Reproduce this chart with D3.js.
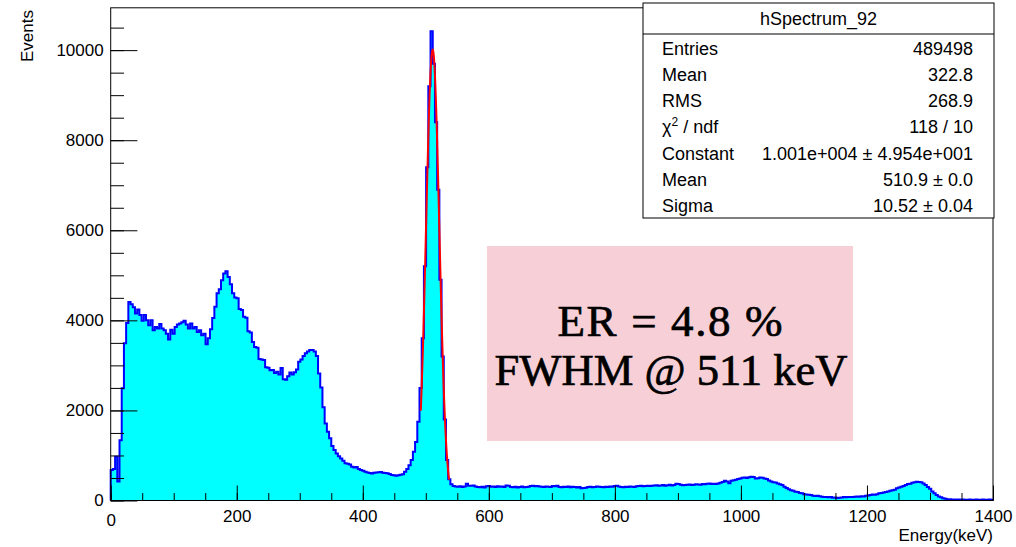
<!DOCTYPE html>
<html>
<head>
<meta charset="utf-8">
<script src="https://cdn.jsdelivr.net/npm/d3@7/dist/d3.min.js"></script>
<style>
  body { margin: 0; background: #ffffff; }
  svg { display: block; }
</style>
</head>
<body>
<svg id="chart"></svg>
<script>
// ---- data (bin width 3.5 keV, 0 - 1400 keV) ----
const binWidth = 3.5;

// 0 - 402.5 keV : Compton region with the backscatter peak near 180 keV
const countsLow = [
  680, 700, 970, 420, 1340, 2490, 3490, 3940, 4410, 4360,
  4290, 4150, 4240, 4120, 3990, 4120, 4000, 3890, 4000, 3780,
  3850, 3820, 3920, 3820, 3780, 3700, 3575, 3790, 3700, 3850,
  3910, 3930, 3960, 3990, 3910, 3820, 3930, 3820, 3850, 3740,
  3780, 3670, 3700, 3470, 3600, 3800, 4050, 4300, 4600, 4690,
  4890, 5040, 5090, 4960, 4800, 4600, 4510, 4490, 4250, 4230,
  4080, 4060, 3760, 3730, 3520, 3410, 3390, 3140, 3130, 3120,
  2960, 2950, 2890, 2900, 2830, 2860, 2800, 2940, 2690, 2680,
  2760, 2840, 2800, 2850, 2910, 3080, 3130, 3210, 3270, 3310,
  3340, 3340, 3310, 3210, 2820, 2510, 2070, 1710, 1525, 1380,
  1210, 1120, 1045, 985, 935, 880, 825, 815, 800, 750,
  735, 745, 700, 680, 660
];

// 402.5 - 546 keV : valley and 511 keV photopeak
const countsPeak = [
  640, 620, 610, 600, 615, 620, 625, 635, 615, 610,
  605, 590, 565, 560, 550, 560, 570, 585, 640, 700,
  780, 900, 1080, 1300, 1750, 2500, 3600, 5200, 7400, 9200,
  10420, 9700, 8400, 6900, 4900, 3200, 1800, 900, 470, 360,
  320
];

// 546 - 962.5 keV : flat continuum
const countsMid = [
  310, 305, 315, 300, 310, 370, 330, 325, 335, 310,
  300, 295, 305, 290, 315, 320, 305, 310, 300, 315,
  305, 310, 300, 335, 330, 300, 295, 305, 290, 300,
  310, 295, 300, 305, 320, 325, 315, 320, 310, 305,
  300, 310, 305, 300, 320, 315, 325, 300, 295, 305,
  300, 310, 295, 305, 300, 290, 300, 270, 275, 285,
  300, 305, 295, 300, 310, 305, 300, 295, 305, 300,
  310, 305, 320, 325, 310, 300, 295, 305, 300, 310,
  305, 300, 315, 320, 325, 315, 320, 330, 320, 325,
  335, 340, 330, 335, 345, 330, 340, 350, 335, 345,
  370, 365, 350, 340, 345, 350, 355, 345, 350, 360,
  355, 350, 365, 360, 370, 375, 365, 370, 365
];

// 962.5 - 1400 keV : Compton edge of 1275 keV line and the 1275 keV peak
const countsHigh = [
  380, 395, 410, 440, 420, 385, 440, 450, 460, 480,
  490, 505, 510, 500, 515, 525, 520, 490, 495, 510,
  505, 490, 480, 445, 420, 405, 400, 380, 360, 345,
  305, 280, 250, 225, 215, 195, 190, 165, 160, 140,
  135, 130, 120, 105, 100, 105, 95, 85, 75, 80,
  70, 75, 60, 65, 55, 60, 65, 75, 70, 80,
  75, 80, 85, 90, 85, 95, 90, 105, 110, 120,
  135, 130, 140, 160, 165, 175, 190, 200, 215, 225,
  240, 270, 290, 305, 320, 345, 365, 370, 395, 405,
  415, 410, 405, 380, 345, 300, 260, 200, 160, 120,
  90, 70, 50, 40, 30, 25, 20, 20, 15, 20,
  15, 20, 15, 15, 20, 15, 15, 20, 15, 15,
  20, 15, 15, 20, 15
];

const counts = countsLow.concat(countsPeak, countsMid, countsHigh);

const xTicks = [0, 200, 400, 600, 800, 1000, 1200, 1400];
const yTicks = [0, 2000, 4000, 6000, 8000, 10000];
const yMax = 10940;

// gaussian fit result
const fitConstant = 10010;
const fitMean = 510.9;
const fitSigma = 10.52;
const fitRange = [492, 537];

const statsTitle = "hSpectrum_92";
const statsLabels = ["Entries", "Mean", "RMS", "chi2", "Constant", "Mean", "Sigma"];
const statsValues = ["489498", "322.8", "268.9", "118 / 10",
  "1.001e+004 \u00b1 4.954e+001", "510.9 \u00b1 0.0", "10.52 \u00b1 0.04"];

const noteLines = ["ER = 4.8 %", "FWHM @ 511 keV"];

// ---- layout ----
const W = 1016, H = 547;
const frame = { left: 110.7, right: 993, top: 7.8, bottom: 500.5 };
const sans = "'Liberation Sans', Arial, Helvetica, sans-serif";

const svg = d3.select("#chart").attr("width", W).attr("height", H)
  .style("font-family", sans);

const x = d3.scaleLinear().domain([0, 1400]).range([frame.left, frame.right]);
const y = d3.scaleLinear().domain([0, yMax]).range([frame.bottom, frame.top]);

// histogram as step points
const steps = [];
counts.forEach((c, i) => {
  steps.push([i * binWidth, c]);
  steps.push([(i + 1) * binWidth, c]);
});

svg.append("path")
  .datum(steps)
  .attr("fill", "#00ffff")
  .attr("d", d3.area().x(d => x(d[0])).y0(y(0)).y1(d => y(d[1])));

const outline = [[0, 0]].concat(steps, [[counts.length * binWidth, 0]]);
svg.append("path")
  .datum(outline)
  .attr("fill", "none")
  .attr("stroke", "#0000ff")
  .attr("stroke-width", 2)
  .attr("stroke-linejoin", "miter")
  .attr("d", d3.line().x(d => x(d[0])).y(d => y(d[1])));

// fit curve
const fitPts = d3.range(fitRange[0], fitRange[1] + 0.01, 0.25).map(e =>
  [e, fitConstant * Math.exp(-0.5 * Math.pow((e - fitMean) / fitSigma, 2))]);
svg.append("path")
  .datum(fitPts)
  .attr("fill", "none")
  .attr("stroke", "#ff0000")
  .attr("stroke-width", 2)
  .attr("d", d3.line().x(d => x(d[0])).y(d => y(d[1])));

// axes
const xMinor = svg.append("g").attr("transform", `translate(0,${frame.bottom})`)
  .call(d3.axisBottom(x).tickValues(d3.range(0, 1401, 50)).tickSize(-7.5).tickFormat(""));
const xMajor = svg.append("g").attr("transform", `translate(0,${frame.bottom})`)
  .call(d3.axisBottom(x).tickValues(xTicks).tickSize(-15).tickPadding(9).tickFormat(d3.format("d")));

const yMinor = svg.append("g").attr("transform", `translate(${frame.left},0)`)
  .call(d3.axisLeft(y).tickValues(d3.range(0, yMax, 500)).tickSize(-13.3).tickFormat(""));
const yMajor = svg.append("g").attr("transform", `translate(${frame.left},0)`)
  .call(d3.axisLeft(y).tickValues(yTicks).tickSize(-26.7).tickPadding(7).tickFormat(d3.format("d")));

[xMinor, xMajor, yMinor, yMajor].forEach(g => {
  g.select(".domain").remove();
  g.selectAll("line").attr("stroke", "#000").attr("stroke-width", 1);
  g.selectAll("text").attr("fill", "#000").style("font-size", "17px").style("font-family", sans);
});
// the "0" on x sits a bit lower in ROOT
xMajor.selectAll("text").filter(d => d === 0).attr("y", 13);

// frame
svg.append("rect")
  .attr("x", frame.left).attr("y", frame.top)
  .attr("width", frame.right - frame.left).attr("height", frame.bottom - frame.top)
  .attr("fill", "none").attr("stroke", "#000").attr("stroke-width", 1);

// axis titles
svg.append("text")
  .attr("x", frame.right).attr("y", 541)
  .attr("text-anchor", "end")
  .style("font-size", "17px")
  .text("Energy(keV)");

svg.append("text")
  .attr("transform", "translate(33,10) rotate(-90)")
  .attr("text-anchor", "end")
  .style("font-size", "17px")
  .text("Events");

// stats box
const box = { x: 643, y: 3, w: 351, h: 215, head: 31 };
const stats = svg.append("g");
stats.append("rect")
  .attr("x", box.x).attr("y", box.y).attr("width", box.w).attr("height", box.h)
  .attr("fill", "#fff").attr("stroke", "#000").attr("stroke-width", 1);
stats.append("line")
  .attr("x1", box.x).attr("x2", box.x + box.w)
  .attr("y1", box.y + box.head).attr("y2", box.y + box.head)
  .attr("stroke", "#000");
stats.append("text")
  .attr("x", box.x + box.w / 2).attr("y", 25)
  .attr("text-anchor", "middle")
  .style("font-size", "18px")
  .text(statsTitle);

const rowH = 26.3;
statsLabels.forEach((lab, i) => {
  const ty = 54.5 + i * rowH;
  const t = stats.append("text")
    .attr("x", 662).attr("y", ty)
    .style("font-size", "18px");
  if (lab === "chi2") {
    t.append("tspan").text("\u03c7");
    t.append("tspan").attr("dy", -7).style("font-size", "12px").text("2");
    t.append("tspan").attr("dy", 7).text(" / ndf");
  } else {
    t.text(lab);
  }
  stats.append("text")
    .attr("x", 973).attr("y", ty)
    .attr("text-anchor", "end")
    .style("font-size", "18px")
    .text(statsValues[i]);
});

// annotation box
const note = svg.append("g");
note.append("rect")
  .attr("x", 487).attr("y", 246).attr("width", 366).attr("height", 195)
  .attr("fill", "#f7d0d7");
note.append("text")
  .attr("x", 670).attr("y", 336)
  .attr("text-anchor", "middle")
  .attr("textLength", 225).attr("lengthAdjust", "spacing")
  .attr("stroke", "#000").attr("stroke-width", 0.7)
  .style("font-family", "'Liberation Serif', 'DejaVu Serif', serif")
  .style("font-size", "45px")
  .text(noteLines[0]);
note.append("text")
  .attr("x", 671).attr("y", 385)
  .attr("text-anchor", "middle")
  .attr("textLength", 353).attr("lengthAdjust", "spacingAndGlyphs")
  .attr("stroke", "#000").attr("stroke-width", 0.7)
  .style("font-family", "'Liberation Serif', 'DejaVu Serif', serif")
  .style("font-size", "45px")
  .text(noteLines[1]);
</script>
</body>
</html>
